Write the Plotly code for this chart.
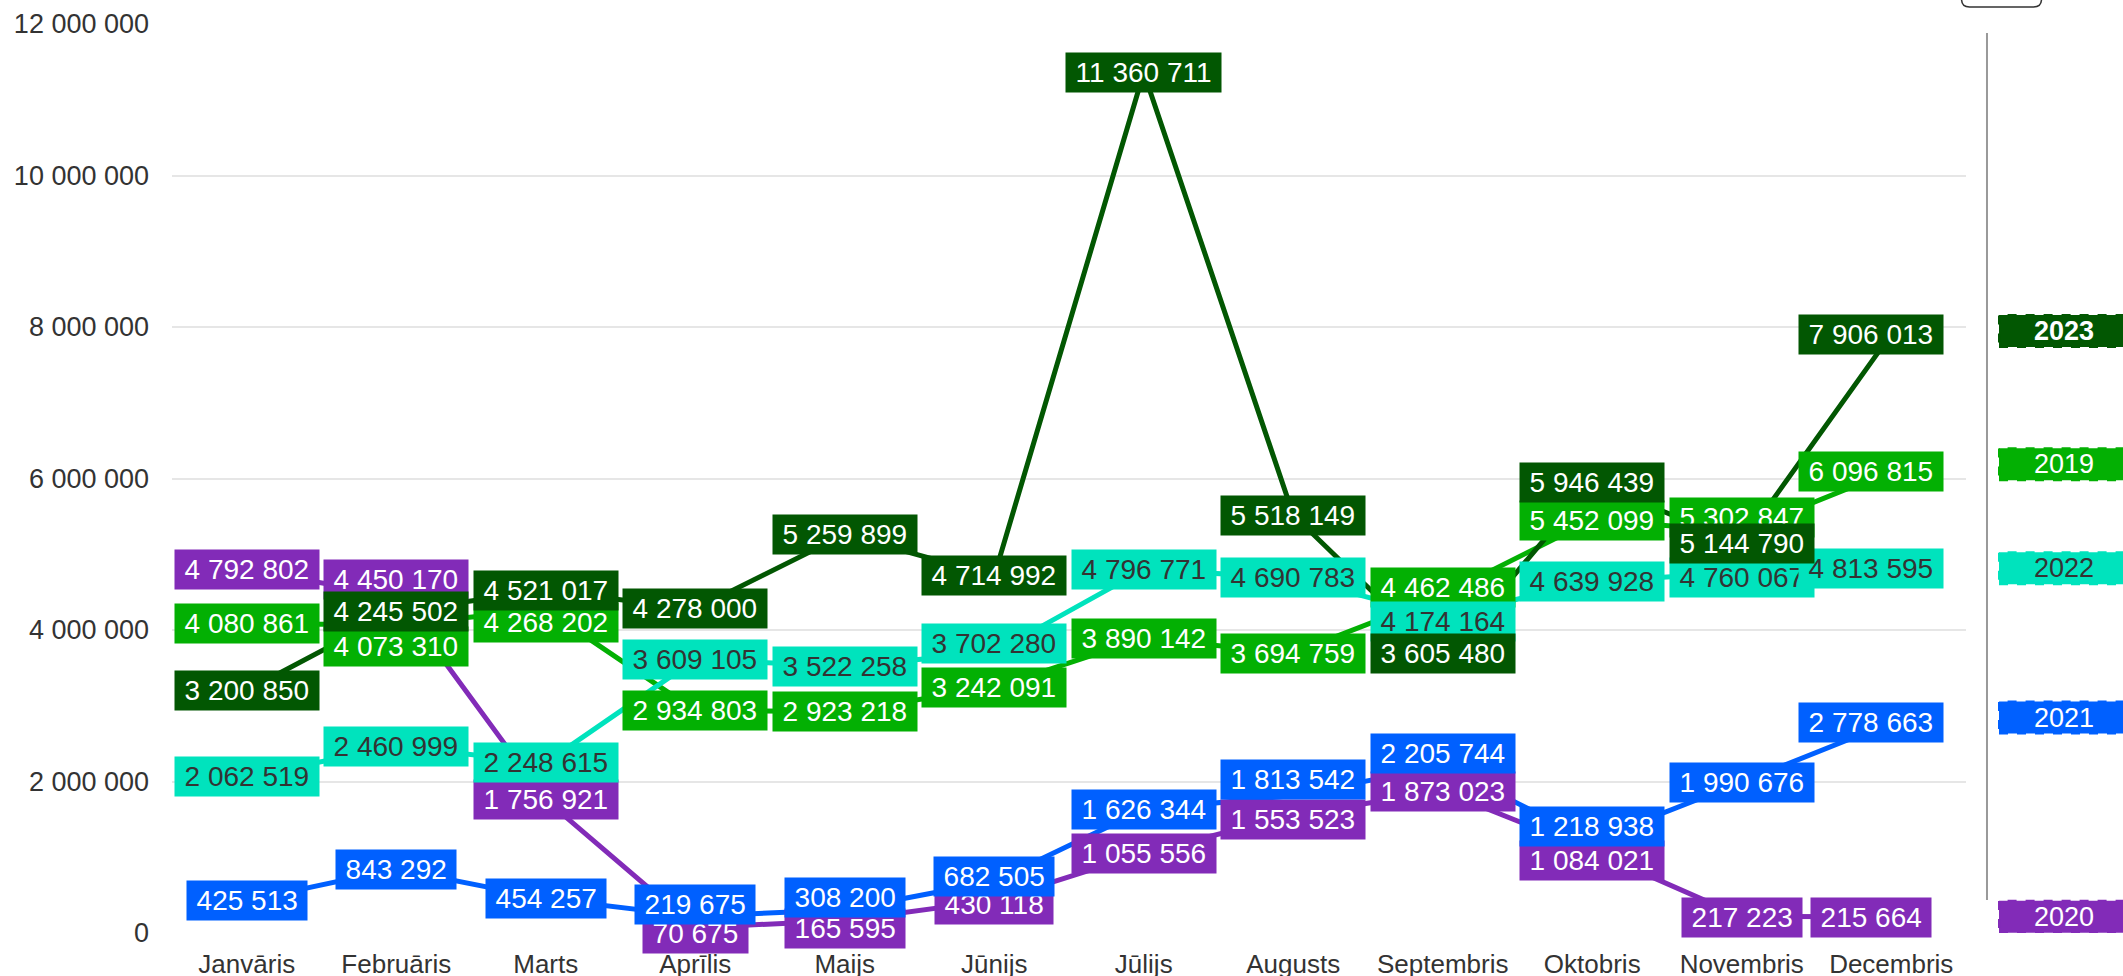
import plotly.graph_objects as go

months = ["Janvāris", "Februāris", "Marts", "Aprīlis", "Maijs", "Jūnijs",
          "Jūlijs", "Augusts", "Septembris", "Oktobris", "Novembris", "Decembris"]

years = ["2019", "2020", "2021", "2022", "2023"]

values_2019 = [4080861, 4073310, 4268202, 2934803, 2923218, 3242091,
               3890142, 3694759, 4462486, 5452099, 5302847, 6096815]
values_2020 = [4792802, 4450170, 1756921, 70675, 165595, 430118,
               1055556, 1553523, 1873023, 1084021, 217223, 215664]
values_2021 = [425513, 843292, 454257, 219675, 308200, 682505,
               1626344, 1813542, 2205744, 1218938, 1990676, 2778663]
values_2022 = [2062519, 2460999, 2248615, 3609105, 3522258, 3702280,
               4796771, 4690783, 4174164, 4639928, 4760067, 4813595]
values_2023 = [3200850, 4245502, 4521017, 4278000, 5259899, 4714992,
               11360711, 5518149, 3605480, 5946439, 5144790, 7906013]

y_ticks = [0, 2000000, 4000000, 6000000, 8000000, 10000000, 12000000]
y_tick_labels = ["0", "2 000 000", "4 000 000", "6 000 000", "8 000 000",
                 "10 000 000", "12 000 000"]

series = {
    "2019": values_2019,
    "2020": values_2020,
    "2021": values_2021,
    "2022": values_2022,
    "2023": values_2023,
}

colors = {
    "2019": "#03b003",
    "2020": "#822bb8",
    "2021": "#0060ff",
    "2022": "#00e3bd",
    "2023": "#025702",
}
text_colors = {
    "2019": "white",
    "2020": "white",
    "2021": "white",
    "2022": "#333333",
    "2023": "white",
}

# label nudges (screen px, down positive) so boxes don't overlap, as in the original
label_nudge = {
    "2019": [0, 22, 13, 0, 0, 0, 0, 0, -7, 0, -14, 0],
    "2020": [0, -16, 0, 6, 8, 4, 0, 4, 0, 10, 1, 1],
    "2021": [0, 0, 0, -12, -12, -5, 0, -16, -12, -14, 0, 0],
    "2022": [0, 0, 0, 0, 0, -9, 0, 0, 5, 0, 5, 0],
    "2023": [0, 0, 0, 0, 0, 0, 0, 0, -6, 0, 0, 0],
}
end_nudge = {"2019": -7, "2020": 0, "2021": -5, "2022": 0, "2023": -3}
end_order = ["2023", "2019", "2022", "2021", "2020"]

FONT = "Liberation Sans, Arial, sans-serif"
PAD = "\u2009"


def fmt(v):
    return f"{v:,}".replace(",", " ")


fig = go.Figure()

for yr in years:
    fig.add_trace(go.Scatter(
        x=months, y=series[yr], mode="lines", name=yr,
        line=dict(color=colors[yr], width=5),
        showlegend=False, hoverinfo="skip",
    ))

for yr in years:
    for i, (m, v) in enumerate(zip(months, series[yr])):
        fig.add_annotation(
            x=m, y=v, text=PAD + fmt(v) + PAD, showarrow=False,
            bgcolor=colors[yr], borderpad=4,
            font=dict(family=FONT, size=28, color=text_colors[yr]),
            yshift=-label_nudge[yr][i],
            xshift=-20 if i == len(months) - 1 else 0,
        )

# year tags on the right, level with each series' December value
for yr in end_order:
    last = series[yr][-1]
    s = -end_nudge[yr]
    fig.add_shape(
        type="rect", xref="paper", yref="y", x0=1.0184, x1=1.2,
        ysizemode="pixel", yanchor=last, y0=s - 16, y1=s + 16,
        fillcolor=colors[yr], line=dict(color=colors[yr], width=2, dash="dash"),
    )
    fig.add_annotation(
        xref="paper", yref="y", x=1.0368, xanchor="left", y=last, yshift=s,
        showarrow=False,
        text="<b>" + yr + "</b>" if yr == "2023" else yr,
        font=dict(family=FONT, size=27, color=text_colors[yr]),
    )

# divider between plot and year tags
fig.add_shape(type="line", xref="paper", yref="paper", x0=1.0117, x1=1.0117,
              y0=0.0363, y1=0.990, line=dict(color="#999999", width=2))

# menu button peeking in at the top
fig.add_shape(
    type="path", xref="paper", yref="paper",
    xsizemode="pixel", ysizemode="pixel", xanchor=1.0198, yanchor=1.0187,
    path="M -40,40 L -40,8 Q -40,0 -32,0 L 32,0 Q 40,0 40,8 L 40,40 Z",
    fillcolor="white", line=dict(color="#333333", width=1.5),
)

fig.update_layout(
    width=2123, height=976,
    margin=dict(l=172, r=157, t=24, b=43),
    paper_bgcolor="white", plot_bgcolor="white",
    hovermode=False,
    font=dict(family=FONT, color="#333333"),
    xaxis=dict(
        type="category", range=[-0.5, 11.5], showgrid=False, zeroline=False,
        showline=False, ticks="", tickfont=dict(size=26, color="#333333"),
        ticklabelstandoff=13, automargin=False,
    ),
    yaxis=dict(
        range=[0, 12000000], tickvals=y_ticks, ticktext=y_tick_labels,
        gridcolor="#e6e6e6", gridwidth=1.5, zeroline=False, showline=False,
        ticks="", tickfont=dict(size=27, color="#333333"),
        ticklabelstandoff=22, automargin=False,
    ),
)

fig.write_html("out.html", config={"displayModeBar": False},
               post_script="document.body.style.margin='0';")
